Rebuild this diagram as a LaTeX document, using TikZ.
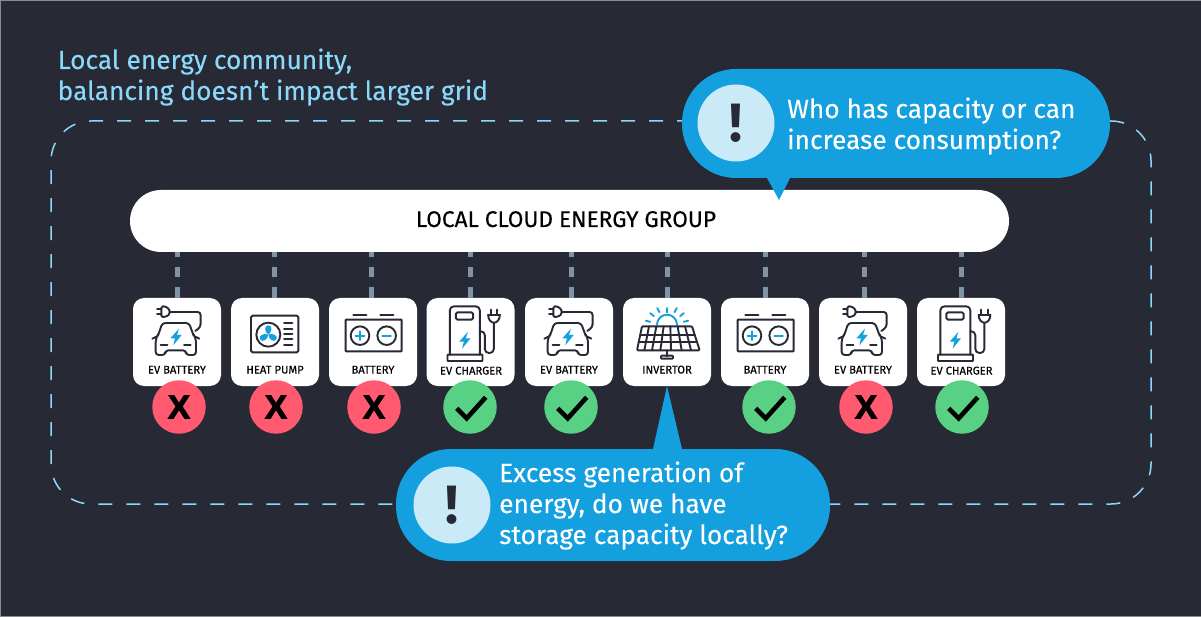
\documentclass[tikz,border=0pt]{standalone}
\usepackage{fontspec}
\setmainfont{Fira Sans}
\newfontfamily\xfont{Liberation Sans}
\definecolor{bgc}{HTML}{272935}
\definecolor{edgec}{HTML}{8A8B90}
\definecolor{lightb}{HTML}{8AD8FA}
\definecolor{bubc}{HTML}{14A0DE}
\definecolor{pale}{HTML}{CAEAF7}
\definecolor{linkc}{HTML}{7F95A6}
\definecolor{redc}{HTML}{FF5A70}
\definecolor{greenc}{HTML}{58D184}
\definecolor{iconb}{HTML}{14A0DE}
\tikzset{
  tile/.style={fill=white,rounded corners=11pt,minimum width=88pt,minimum height=88pt,inner sep=0pt,outer sep=0pt},
  tilelabel/.style={font=\fontsize{11.2}{12}\selectfont\addfontfeatures{FakeBold=0.35},text=black,inner sep=0pt,anchor=base},
  link/.style={draw=linkc,line width=5pt,dash pattern=on 10.5pt off 10pt},
  badge/.style={circle,minimum size=53.5pt,inner sep=0pt},
  bad/.style={badge,fill=redc,text=black,font=\xfont\fontsize{33}{33}\selectfont\bfseries\addfontfeatures{FakeBold=3}},
  good/.style={badge,fill=greenc},
  tick/.style={draw=black,line width=4.6pt},
  bubble/.style={fill=bubc,inner sep=0pt,outer sep=0pt},
  disc/.style={circle,fill=pale,minimum size=77pt,inner sep=0pt,text=bgc,font=\fontsize{54}{54}\selectfont\bfseries},
  bubtext/.style={text=white,font=\fontsize{26.3}{31}\selectfont\addfontfeatures{FakeBold=0.15},align=left,inner sep=0pt,anchor=base west},
  headtext/.style={text=lightb,font=\fontsize{26.3}{31}\selectfont\addfontfeatures{FakeBold=0.15},inner sep=0pt,anchor=base west},
  ln/.style={draw=bgc,line width=1.9pt,line cap=round,line join=round},
  lb/.style={draw=iconb,line width=1.9pt,line cap=round,line join=round},
  bolt/.style={fill=iconb},
  evbattery/.pic={
    \begin{scope}[shift={(-25,-25)}]
      \draw[ln,rounded corners=1.5pt] (110,50)--(122,50)--(135,60)--(135,74)--(122,82)--(110,82)--cycle;
      \draw[ln] (97,57)--(110,57) (97,74)--(110,74);
      \draw[ln,rounded corners=3pt] (135,67)--(228,67)--(228,112)--(212,124);
      \draw[ln,rounded corners=3pt] (100,138)--(113,100)--(193,100)--(207,138);
      \draw[ln,rounded corners=3pt] (100,134)--(93,150)--(93,196)--(122,196)--(122,182)--(184,182)--(184,196)--(214,196)--(214,150)--(207,134);
      \draw[ln] (83,147)--(95,141) (224,147)--(212,141);
      \draw[ln] (108,166)--(128,166) (178,166)--(198,166);
      \fill[bolt] (154,142) +(9,-25)--+(-17,4)--+(-3,4)--+(-8,25)--+(17,-6)--+(3,-6)--cycle;
    \end{scope}},
  heatpump/.pic={
    \begin{scope}[shift={(-318,-25)}]
      \draw[ln,rounded corners=1.5pt] (378,78) rectangle (520,188);
      \draw[ln] (430,135) circle[radius=12pt];
      \draw[ln] (477,100)--(502,100) (477,117)--(502,117) (477,133)--(502,133) (477,149)--(502,149) (477,165)--(502,165);
      \foreach \a in {90,210,330}{
        \begin{scope}[shift={(430,135)},rotate=\a]
          \fill[iconb] (0,0) ..controls (8,12) and (28,13) .. (28,0) .. controls (28,-13) and (8,-12) .. (0,0);
        \end{scope}}
    \end{scope}},
  batteryicon/.pic={
    \begin{scope}[shift={(-612,-25)}]
      \draw[ln,rounded corners=0.5pt] (662,90) rectangle (830,185);
      \draw[ln] (685,77)--(724,77) (766,77)--(805,77);
      \draw[ln] (705,138) circle[radius=9.3pt] (785,138) circle[radius=9.3pt];
      \draw[lb] (692,138)--(718,138) (705,125)--(705,151) (772,138)--(798,138);
    \end{scope}},
  evcharger/.pic={
    \begin{scope}[shift={(-20,-25)}]
      \draw[ln,rounded corners=4pt] (90,195)--(90,50)--(180,50)--(180,195);
      \draw[ln,rounded corners=0.5pt] (83,195) rectangle (188,214);
      \draw[ln,rounded corners=1.5pt] (108,68) rectangle (160,90);
      \fill[bolt] (135,152) +(9,-25)--+(-17,4)--+(-3,4)--+(-8,25)--+(17,-6)--+(3,-6)--cycle;
      \draw[ln,rounded corners=4pt] (180,125)--(195,125)--(195,190)--(222,190)--(222,100);
      \draw[ln] (205,75)--(240,75);
      \draw[ln] (205,75) .. controls (205,107) and (240,107) .. (240,75);
      \draw[ln] (213,60)--(213,75) (232,60)--(232,75);
    \end{scope}},
  inverter/.pic={
    \begin{scope}[shift={(-608,-25)}]
      \draw[lb] (710,105) arc[start angle=180,end angle=360,x radius=30,y radius=30];
      \foreach \a/\r/\s in {15/52/66,38/50/64,62/48/62,90/42/55,118/48/62,142/50/64,165/52/66}
        \draw[lb] ([shift={(-\a:\r)}]740,110)--([shift={(-\a:\s)}]740,110);
      \draw[ln,fill=white,rounded corners=1pt] (665,110)--(815,110)--(838,182)--(650,182)--cycle;
      \draw[ln] (660,135)--(821,135) (655,158)--(830,158);
      \foreach \t/\b in {686/672,708/695,730/720,750/752,772/784,794/812}
        \draw[ln] (\t,110)--(\b,182);
      \draw[ln] (740,182)--(740,200);
      \draw[ln,rounded corners=0.7pt] (722,198) rectangle (758,207);
    \end{scope}}
}
\begin{document}
\begin{tikzpicture}[x=1pt,y=-1pt]
\useasboundingbox (0,0) rectangle (1201,617);
\fill[bgc] (0,0) rectangle (1201,617);
\draw[edgec,line width=1pt] (0,0.5)--(1201,0.5) (0.5,0)--(0.5,617) (0,616.5)--(1201,616.5);

% dashed community frame
\node[draw=lightb,line width=1.5pt,dash pattern=on 14pt off 14pt,rounded corners=40pt,
      minimum width=1100pt,minimum height=383pt,inner sep=0pt] (frame) at (601,312.5) {};

% heading
\node[headtext] (h1) at (57.5,69) {Local energy community,};
\node[headtext] (h2) at (57.5,100) {balancing doesn’t impact larger grid};

% tiles
\node[tile] (t1) at (177,342) {};
\node[tile] (t2) at (275,342) {};
\node[tile] (t3) at (373,342) {};
\node[tile] (t4) at (470.5,342) {};
\node[tile] (t5) at (569,342) {};
\node[tile] (t6) at (667,342) {};
\node[tile] (t7) at (765,342) {};
\node[tile] (t8) at (863,342) {};
\node[tile] (t9) at (961,342) {};

% group bar
\node[fill=white,rounded corners=31pt,minimum width=879pt,minimum height=62pt,inner sep=0pt,outer sep=0pt] (bar) at (569.5,221) {};
\node[font=\fontsize{22.65}{24}\selectfont\addfontfeatures{FakeBold=0.2},text=black,inner sep=0pt,anchor=base] (bartext) at (566,227) {LOCAL CLOUD ENERGY GROUP};

% connectors
\foreach \n/\dx in {t1/0,t2/-1,t3/-2,t4/-0.5,t5/2,t6/0,t7/0,t8/1,t9/0}
  \draw[link] ([xshift=\dx pt]\n.north) -- ([xshift=\dx pt]\n.north |- bar.south);

% icons
\pic[x=0.3333pt,y=-0.3333pt] at (t1.north west) {evbattery};
\pic[x=0.3333pt,y=-0.3333pt] at (t2.north west) {heatpump};
\pic[x=0.3333pt,y=-0.3333pt] at (t3.north west) {batteryicon};
\pic[x=0.3333pt,y=-0.3333pt] at (t4.north west) {evcharger};
\pic[x=0.3333pt,y=-0.3333pt] at (t5.north west) {evbattery};
\pic[x=0.3333pt,y=-0.3333pt] at (t6.north west) {inverter};
\pic[x=0.3333pt,y=-0.3333pt] at (t7.north west) {batteryicon};
\pic[x=0.3333pt,y=-0.3333pt] at (t8.north west) {evbattery};
\pic[x=0.3333pt,y=-0.3333pt] at (t9.north west) {evcharger};

% labels
\node[tilelabel] (l1) at (177,373.5) {EV BATTERY};
\node[tilelabel] (l2) at (275,373.5) {HEAT PUMP};
\node[tilelabel] (l3) at (373,373.5) {BATTERY};
\node[tilelabel] (l4) at (471,374.5) {EV CHARGER};
\node[tilelabel] (l5) at (569,373.5) {EV BATTERY};
\node[tilelabel] (l6) at (667,373.5) {INVERTOR};
\node[tilelabel] (l7) at (765,373.5) {BATTERY};
\node[tilelabel] (l8) at (863,373.5) {EV BATTERY};
\node[tilelabel] (l9) at (961.5,374.5) {EV CHARGER};

% badges
\node[bad] (b1) at (179,407) {X};
\node[bad] (b2) at (276,407) {X};
\node[bad] (b3) at (374,407) {X};
\node[good] (b4) at (470,407) {};
\node[good] (b5) at (571,407) {};
\node[good] (b7) at (769,407) {};
\node[bad] (b8) at (866,407) {X};
\node[good] (b9) at (962,407) {};
\foreach \n in {b4,b5,b7,b9}
  \draw[tick] ([shift={(-13.3,1.3)}]\n.center)--([shift={(-3.3,11.3)}]\n.center)--([shift={(15.7,-9.7)}]\n.center);

% top bubble
\node[bubble,rounded corners=54pt,minimum width=428pt,minimum height=109pt] (bub1) at (896,123.5) {};
\coordinate (tip1) at (779,200);
\fill[bubc] ([xshift=-129pt]bub1.south) -- (tip1) -- ([xshift=-106pt]bub1.south) -- cycle;
\node[disc] (d1) at (736,123) {!};
\node[bubtext] (bt1) at (787,118) {Who has capacity or can};
\node[bubtext] (bt2) at (787,149) {increase consumption?};

% bottom bubble
\node[bubble,rounded corners=55pt,minimum width=434pt,minimum height=112pt] (bub2) at (613,505) {};
\fill[bubc] ([xshift=40pt]bub2.north) -- (t6.south) -- ([xshift=69pt]bub2.north) -- cycle;
\node[disc] (d2) at (452,505) {!};
\node[bubtext] (bt3) at (499,482) {Excess generation of};
\node[bubtext] (bt4) at (499,513) {energy, do we have};
\node[bubtext] (bt5) at (499,544) {storage capacity locally?};
\end{tikzpicture}
\end{document}
